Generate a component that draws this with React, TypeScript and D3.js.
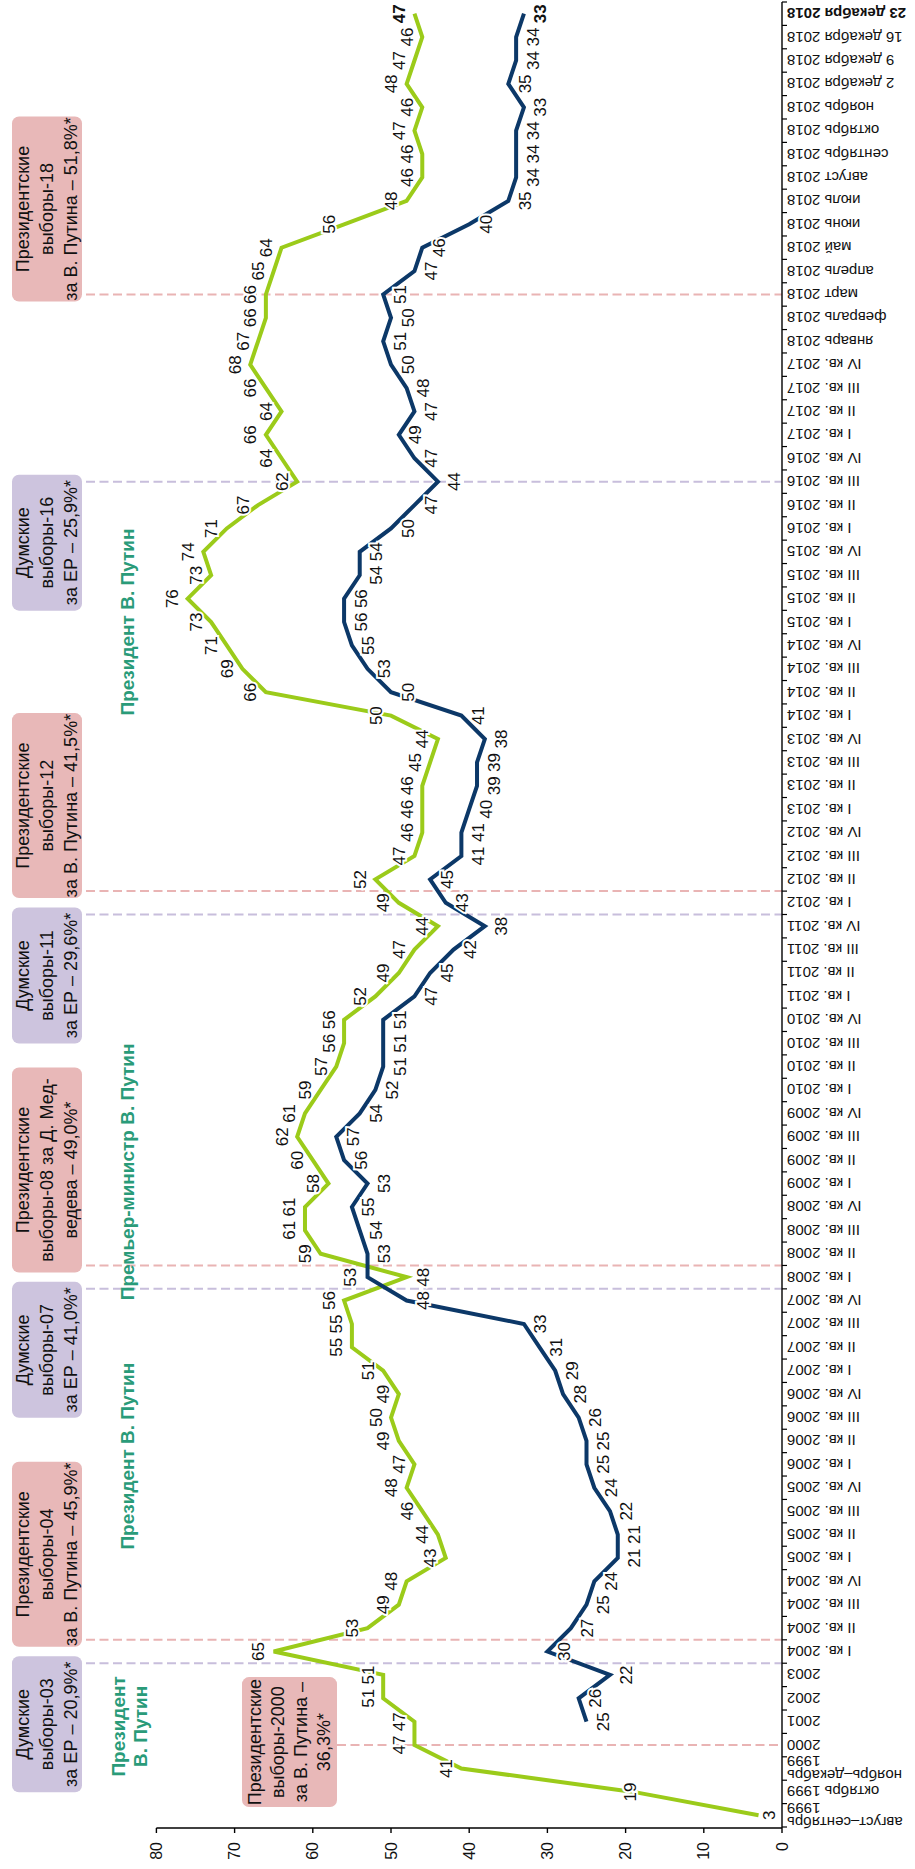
import * as d3 from "d3";

// chronological order, earliest first (the picture is rotated, so it reads bottom to top)
const categories = [
  "август–сентябрь\n1999", "октябрь 1999", "ноябрь–декабрь\n1999",
  "2000", "2001", "2002", "2003",
  "I кв. 2004", "II кв. 2004", "III кв. 2004", "IV кв. 2004",
  "I кв. 2005", "II кв. 2005", "III кв. 2005", "IV кв. 2005",
  "I кв. 2006", "II кв. 2006", "III кв. 2006", "IV кв. 2006",
  "I кв. 2007", "II кв. 2007", "III кв. 2007", "IV кв. 2007",
  "I кв. 2008", "II кв. 2008", "III кв. 2008", "IV кв. 2008",
  "I кв. 2009", "II кв. 2009", "III кв. 2009", "IV кв. 2009",
  "I кв. 2010", "II кв. 2010", "III кв. 2010", "IV кв. 2010",
  "I кв. 2011", "II кв. 2011", "III кв. 2011", "IV кв. 2011",
  "I кв. 2012", "II кв. 2012", "III кв. 2012", "IV кв. 2012",
  "I кв. 2013", "II кв. 2013", "III кв. 2013", "IV кв. 2013",
  "I кв. 2014", "II кв. 2014", "III кв. 2014", "IV кв. 2014",
  "I кв. 2015", "II кв. 2015", "III кв. 2015", "IV кв. 2015",
  "I кв. 2016", "II кв. 2016", "III кв. 2016", "IV кв. 2016",
  "I кв. 2017", "II кв. 2017", "III кв. 2017", "IV кв. 2017",
  "январь 2018", "февраль 2018", "март 2018", "апрель 2018", "май 2018",
  "июнь 2018", "июль 2018", "август 2018", "сентябрь 2018", "октябрь 2018",
  "ноябрь 2018", "2 декабря 2018", "9 декабря 2018", "16 декабря 2018",
  "23 декабря 2018",
];

const greenSeries = [
  3, 19, 41, 47, 47, 51, 51,
  65, 53, 49, 48, 43, 44, 46, 48, 47, 49, 50, 49, 51, 55, 55, 56,
  48, 59, 61, 61, 58, 60, 62, 61, 59, 57, 56, 56, 52, 49, 47, 44,
  49, 52, 47, 46, 46, 46, 45, 44, 50, 66, 69, 71, 73, 76, 73, 74,
  71, 67, 62, 64, 66, 64, 66, 68,
  67, 66, 66, 65, 64, 56, 48, 46, 46, 47, 46, 48, 47, 46, 47,
];

const blueSeries: (number | null)[] = [
  null, null, null, null, 25, 26, 22,
  30, 27, 25, 24, 21, 21, 22, 24, 25, 25, 26, 28, 29, 31, 33, 48,
  53, 53, 54, 55, 53, 56, 57, 54, 52, 51, 51, 51, 47, 45, 42, 38,
  43, 45, 41, 41, 40, 39, 39, 38, 41, 50, 53, 55, 56, 56, 54, 54,
  50, 47, 44, 47, 49, 47, 48, 50,
  51, 50, 51, 47, 46, 40, 35, 34, 34, 34, 33, 35, 34, 34, 33,
];

const valueTicks = [0, 10, 20, 30, 40, 50, 60, 70, 80];

// at: where in the band the election falls (0 start, 0.5 middle, 1 end)
const elections = [
  { cat: "2000", at: 0.5, kind: "pres", text: ["Президентские", "выборы-2000", "за В. Путина –", "36,3%*"] },
  { cat: "2003", at: 1, kind: "duma", text: ["Думские", "выборы-03", "за ЕР – 20,9%*"] },
  { cat: "I кв. 2004", at: 1, kind: "pres", text: ["Президентские", "выборы-04", "за В. Путина – 45,9%*"] },
  { cat: "IV кв. 2007", at: 1, kind: "duma", text: ["Думские", "выборы-07", "за ЕР – 41,0%*"] },
  { cat: "I кв. 2008", at: 1, kind: "pres", text: ["Президентские", "выборы-08 за Д. Мед-", "ведева – 49,0%*"] },
  { cat: "IV кв. 2011", at: 1, kind: "duma", text: ["Думские", "выборы-11", "за ЕР – 29,6%*"] },
  { cat: "I кв. 2012", at: 1, kind: "pres", text: ["Президентские", "выборы-12", "за В. Путина – 41,5%*"] },
  { cat: "III кв. 2016", at: 0.5, kind: "duma", text: ["Думские", "выборы-16", "за ЕР – 25,9%*"] },
  { cat: "март 2018", at: 0.5, kind: "pres", text: ["Президентские", "выборы-18", "за В. Путина – 51,8%*"] },
];

const periods = [
  { cat: "2001", at: 0.3, text: ["Президент", "В. Путин"] },
  { cat: "I кв. 2006", at: 0.85, text: ["Президент В. Путин"] },
  { cat: "I кв. 2009", at: 1, text: ["Премьер-министр В. Путин"] },
  { cat: "I кв. 2015", at: 0.5, text: ["Президент В. Путин"] },
];

const GREEN = "#9bcb1a";
const BLUE = "#0c3868";
const PINK = "#e8b8b8";
const LILAC = "#cdc4de";
const PINK_LINE = "#e9b4b4";
const LILAC_LINE = "#c8bedc";
const TEAL = "#2a9b79";
const FONT = "'Liberation Sans', Arial, sans-serif";

const PAGE_W = 915;
const PAGE_H = 1869;

export default function App() {
  // drawn as an ordinary chart of PAGE_H x PAGE_W, then turned a quarter left
  const x = d3.scaleBand<string>().domain(categories).range([42, 1867]).padding(0);
  const y = d3.scaleLinear().domain([0, 80]).range([782, 156.4]);
  const bw = x.bandwidth();
  const cx = (c: string) => (x(c) ?? 0) + bw / 2;
  const at = (c: string, f: number) => (x(c) ?? 0) + f * bw;

  const line = d3
    .line<number | null>()
    .defined((d) => d != null)
    .x((_, i) => cx(categories[i]))
    .y((d) => y(d as number));

  const greenOffset = (i: number) => (i === 0 ? 11 : i === 1 ? -3 : i === 23 ? 17 : -15);
  const blueOffset = (i: number) => (i === 23 ? -17 : 17);
  const last = categories.length - 1;

  const bounds = categories.map((c) => x(c) ?? 0).concat([(x(categories[last]) ?? 0) + bw]);

  return (
    <svg
      width={PAGE_W}
      height={PAGE_H}
      style={{ position: "absolute", left: 0, top: 0, background: "#fff" }}
    >
      <rect width={PAGE_W} height={PAGE_H} fill="#fff" />
      <g transform={`translate(0,${PAGE_H}) rotate(-90)`} fontFamily={FONT}>
        {/* election lines and boxes */}
        {elections.map((e, k) => {
          const lx = at(e.cat, e.at);
          const isPres = e.kind === "pres";
          const first = k === 0;
          let bx0: number, bx1: number, by0: number, by1: number;
          if (first) {
            bx0 = lx - 62;
            bx1 = lx + 68;
            by0 = 242;
            by1 = 337;
          } else if (isPres) {
            const len = e.cat === "I кв. 2008" ? 205 : 185;
            bx0 = lx - 7;
            bx1 = lx - 7 + len;
            by0 = 12;
            by1 = 82;
          } else {
            bx0 = lx + 7 - 136;
            bx1 = lx + 7;
            by0 = 12;
            by1 = 82;
          }
          const mid = (by0 + by1) / 2;
          const step = first ? 23 : 24;
          return (
            <g key={k}>
              <line
                x1={lx}
                x2={lx}
                y1={first ? by1 : 86}
                y2={782}
                stroke={isPres ? PINK_LINE : LILAC_LINE}
                strokeWidth={2}
                strokeDasharray="9 4.5"
              />
              <rect
                x={bx0}
                y={by0}
                width={bx1 - bx0}
                height={by1 - by0}
                rx={7}
                fill={isPres ? PINK : LILAC}
              />
              {e.text.map((t, j) => (
                <text
                  key={j}
                  x={(bx0 + bx1) / 2}
                  y={mid + (j - (e.text.length - 1) / 2) * step}
                  textAnchor="middle"
                  dominantBaseline="central"
                  fontSize={18}
                  fill="#111"
                >
                  {t}
                </text>
              ))}
            </g>
          );
        })}

        {/* period captions */}
        {periods.map((p, k) => (
          <text
            key={k}
            x={at(p.cat, p.at)}
            y={p.text.length > 1 ? 118 : 127}
            textAnchor="middle"
            dominantBaseline="central"
            fontSize={19}
            fontWeight="bold"
            fill={TEAL}
          >
            {p.text.map((t, j) => (
              <tspan key={j} x={at(p.cat, p.at)} dy={j === 0 ? 0 : 22}>
                {t}
              </tspan>
            ))}
          </text>
        ))}

        {/* value axis */}
        <line x1={41} x2={41} y1={y(80)} y2={y(0)} stroke="#000" strokeWidth={1.4} />
        {valueTicks.map((v) => (
          <g key={v}>
            <line x1={36} x2={41} y1={y(v)} y2={y(v)} stroke="#000" strokeWidth={1.4} />
            <text
              x={27}
              y={y(v)}
              textAnchor="end"
              dominantBaseline="central"
              fontSize={16}
              fill="#111"
            >
              {v}
            </text>
          </g>
        ))}

        {/* category axis */}
        <line x1={41} x2={1867} y1={y(0)} y2={y(0)} stroke="#000" strokeWidth={1.4} />
        {bounds.map((b, i) => (
          <line key={i} x1={b} x2={b} y1={y(0)} y2={y(0) + 5} stroke="#000" strokeWidth={1.2} />
        ))}
        {categories.map((c, i) => {
          const parts = c.split("\n");
          const px = cx(c);
          const py = y(0) + 5;
          return (
            <text
              key={c}
              transform={`translate(${px},${py}) rotate(-90)`}
              textAnchor="end"
              fontSize={15}
              fontWeight={i === last ? "bold" : "normal"}
              fill="#111"
            >
              {parts.map((t, j) => (
                <tspan
                  key={j}
                  x={0}
                  y={(j - (parts.length - 1) / 2) * 14.5}
                  dominantBaseline="central"
                >
                  {t}
                </tspan>
              ))}
            </text>
          );
        })}

        {/* series */}
        <path d={line(greenSeries) ?? ""} fill="none" stroke={GREEN} strokeWidth={4} strokeLinejoin="miter" />
        <path d={line(blueSeries) ?? ""} fill="none" stroke={BLUE} strokeWidth={4} strokeLinejoin="miter" />

        {/* value labels */}
        <g fontSize={17} textAnchor="middle" dominantBaseline="central">
          {greenSeries.map((v, i) => (
            <text
              key={"g" + i}
              x={cx(categories[i])}
              y={y(v) + greenOffset(i)}
              fill="#111"
              stroke="#fff"
              strokeWidth={4}
              paintOrder="stroke"
              fontWeight={i === last ? "bold" : "normal"}
            >
              {v}
            </text>
          ))}
          {blueSeries.map((v, i) =>
            v == null ? null : (
              <text
                key={"b" + i}
                x={cx(categories[i])}
                y={y(v) + blueOffset(i)}
                fill="#111"
                stroke="#fff"
                strokeWidth={4}
                paintOrder="stroke"
                fontWeight={i === last ? "bold" : "normal"}
              >
                {v}
              </text>
            )
          )}
        </g>
      </g>
    </svg>
  );
}
